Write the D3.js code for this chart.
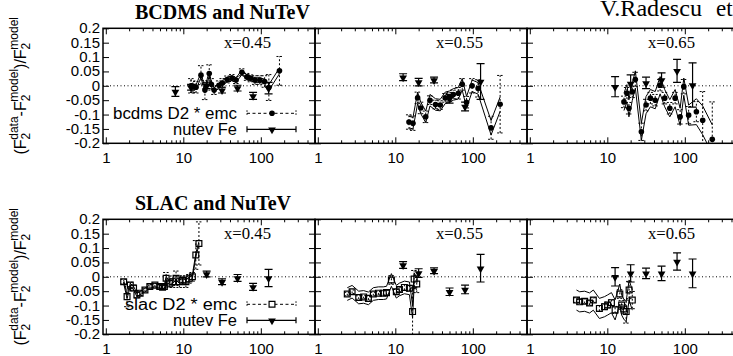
<!DOCTYPE html>
<html><head><meta charset="utf-8">
<script src="https://cdn.jsdelivr.net/npm/d3@7"></script>
<style>body{margin:0;background:#fff}svg{display:block}</style></head>
<body><svg id="c" width="733" height="356"></svg>
<script>
// ---------------- DATA ----------------
// Top row: BCDMS (D2 * emc) at x = 0.45, 0.55, 0.65
const bcdmsQ45 = [12.6, 13.3, 14.6, 16.9, 19.0, 21.6, 23.0, 25.0, 28.8, 32.0, 36.8, 42.5, 48.0, 57.0, 66.0, 74.0, 84.0, 97.0, 112, 127, 174];
const bcdmsV45 = [0.0, -0.003, -0.005, 0.037, -0.015, 0.043, 0.005, -0.015, 0.002, 0.01, 0.022, 0.027, 0.02, 0.047, 0.031, 0.026, 0.02, 0.02, 0.015, -0.006, 0.052];
const bcdmsE45 = [0.025, 0.02, 0.02, 0.033, 0.033, 0.03, 0.02, 0.015, 0.015, 0.015, 0.012, 0.012, 0.012, 0.012, 0.012, 0.012, 0.015, 0.015, 0.02, 0.045, 0.05];
const bcdmsS45 = [0.008, 0.008, 0.008, 0.008, 0.008, 0.008, 0.008, 0.008, 0.008, 0.008, 0.008, 0.008, 0.008, 0.008, 0.008, 0.008, 0.008, 0.008, 0.008, 0.01, 0.01];

const bcdmsQ55 = [15, 16.9, 19.4, 21.3, 24.7, 28, 33, 38, 44, 50, 56, 65, 73, 83, 98, 117, 172, 225];
const bcdmsV55 = [-0.126, -0.13, -0.042, -0.077, -0.108, -0.05, -0.065, -0.067, -0.042, -0.038, -0.03, -0.026, 0.005, -0.057, 0.0, -0.009, -0.146, -0.064];
const bcdmsE55 = [0.025, 0.025, 0.02, 0.02, 0.02, 0.015, 0.015, 0.015, 0.015, 0.015, 0.015, 0.02, 0.02, 0.02, 0.025, 0.03, 0.04, 0.1];
const bcdmsS55 = [0.02, 0.02, 0.02, 0.02, 0.02, 0.02, 0.02, 0.02, 0.02, 0.02, 0.02, 0.02, 0.02, 0.02, 0.02, 0.02, 0.025, 0.025];

const bcdmsQ65 = [16.4, 17.9, 19, 21, 23, 27.5, 31.6, 36, 41.5, 48, 55, 64, 75, 87, 97, 112, 141, 170, 226];
const bcdmsV65 = [-0.056, -0.026, -0.078, -0.021, 0.022, -0.16, -0.067, -0.043, -0.05, 0.002, -0.043, -0.078, -0.043, -0.108, -0.003, -0.102, -0.09, -0.12, -0.186];
const bcdmsE65 = [0.02, 0.02, 0.02, 0.02, 0.025, 0.03, 0.02, 0.02, 0.02, 0.02, 0.02, 0.02, 0.02, 0.025, 0.025, 0.03, 0.035, 0.1, 0.13];
const bcdmsS65 = [0.03, 0.03, 0.03, 0.03, 0.03, 0.03, 0.03, 0.03, 0.03, 0.03, 0.03, 0.03, 0.03, 0.03, 0.03, 0.035, 0.045, 0.05, 0.05];

// Bottom row: SLAC (D2 * emc) at x = 0.45, 0.55, 0.65
const slacQ45 = [1.70, 1.88, 2.07, 2.28, 2.52, 2.77, 3.2, 3.7, 4.3, 4.96, 5.4, 5.7, 6.0, 6.6, 7.3, 8.06, 8.9, 9.8, 10.8, 11.9, 13.1, 14.5, 15.9];
const slacV45 = [-0.017, -0.069, -0.029, -0.039, -0.063, -0.057, -0.046, -0.034, -0.029, -0.034, -0.036, -0.034, -0.005, -0.022, -0.017, -0.005, -0.017, -0.012, -0.017, -0.007, 0.0, 0.076, 0.116];
const slacE45 = [0.008, 0.035, 0.01, 0.01, 0.01, 0.008, 0.006, 0.006, 0.006, 0.006, 0.006, 0.008, 0.02, 0.015, 0.02, 0.025, 0.02, 0.015, 0.02, 0.015, 0.015, 0.05, 0.075];
const slacS45 = [0.006, 0.006, 0.006, 0.006, 0.006, 0.006, 0.006, 0.006, 0.006, 0.006, 0.006, 0.006, 0.006, 0.006, 0.006, 0.006, 0.006, 0.006, 0.006, 0.006, 0.006, 0.006, 0.006];

const slacQ55 = [2.4, 2.77, 3.37, 3.9, 4.5, 5.2, 6.05, 7.0, 7.7, 8.9, 10.3, 11.3, 13.1, 15.2, 16.7, 17.5, 18.9];
const slacV55 = [-0.06, -0.052, -0.072, -0.07, -0.075, -0.06, -0.057, -0.057, -0.055, -0.011, -0.052, -0.044, -0.037, -0.04, -0.121, -0.008, -0.025];
const slacE55 = [0.006, 0.006, 0.006, 0.006, 0.006, 0.006, 0.006, 0.008, 0.008, 0.015, 0.008, 0.008, 0.01, 0.01, 0.08, 0.03, 0.03];
const slacS55 = [0.022, 0.022, 0.022, 0.022, 0.022, 0.022, 0.022, 0.022, 0.022, 0.022, 0.022, 0.022, 0.022, 0.022, 0.022, 0.022, 0.022];

const slacQ65 = [4.0, 4.4, 5.1, 5.9, 6.6, 7.9, 9.2, 10.1, 11.3, 12.6, 14.5, 15.3, 16.3, 17.5, 19.1, 21];
const slacV65 = [-0.081, -0.087, -0.085, -0.091, -0.081, -0.11, -0.104, -0.098, -0.09, -0.115, -0.06, -0.098, -0.112, -0.121, -0.046, -0.081];
const slacE65 = [0.008, 0.008, 0.008, 0.008, 0.008, 0.01, 0.01, 0.01, 0.01, 0.012, 0.015, 0.015, 0.015, 0.04, 0.03, 0.03];
const slacS65 = [0.035, 0.035, 0.035, 0.035, 0.035, 0.035, 0.035, 0.035, 0.035, 0.035, 0.035, 0.035, 0.035, 0.035, 0.035, 0.035];

// NuTeV Fe
const nutevTopQ45 = [7.9, 12.6, 20, 31.6, 50.1, 79.4, 125.9];
const nutevTopV45 = [-0.02, -0.005, 0.0, -0.015, -0.008, -0.035, -0.008];
const nutevTopE45 = [0.017, 0.01, 0.01, 0.01, 0.01, 0.012, 0.02];
const nutevTopQ55 = [12.6, 20, 31.6, 50.1, 79.4, 125.9];
const nutevTopV55 = [0.03, 0.013, 0.02, -0.045, -0.072, 0.015];
const nutevTopE55 = [0.012, 0.013, 0.01, 0.015, 0.015, 0.062];
const nutevTopQ65 = [12.6, 20, 31.6, 50.1, 79.4, 125.9];
const nutevTopV65 = [-0.003, 0.008, 0.01, 0.02, 0.052, 0.003];
const nutevTopE65 = [0.035, 0.03, 0.02, 0.025, 0.04, 0.077];

const nutevBotQ45 = [20, 31.6, 50.1, 79.4, 125.9];
const nutevBotV45 = [0.01, -0.017, -0.004, -0.035, -0.004];
const nutevBotE45 = [0.01, 0.01, 0.012, 0.012, 0.03];
const nutevBotQ55 = [12.6, 20, 31.6, 50.1, 79.4, 125.9];
const nutevBotV55 = [0.041, 0.013, 0.021, -0.052, -0.044, 0.03];
const nutevBotE55 = [0.012, 0.015, 0.01, 0.013, 0.015, 0.048];
const nutevBotQ65 = [12.6, 20, 31.6, 50.1, 79.4, 125.9];
const nutevBotV65 = [0.0, 0.012, 0.012, 0.012, 0.053, 0.012];
const nutevBotE65 = [0.032, 0.03, 0.018, 0.025, 0.03, 0.05];

const xLabels = ["x=0.45", "x=0.55", "x=0.65"];
const yTickValues = [-0.2, -0.15, -0.1, -0.05, 0, 0.05, 0.1, 0.15, 0.2];
const xMajorTicks = [1, 10, 100];
const rowTitles = ["BCDMS and NuTeV", "SLAC and NuTeV"];
const legendTop = ["bcdms D2 * emc", "nutev Fe"];
const legendBot = ["slac D2 * emc", "nutev Fe"];

// ---------------- LAYOUT ----------------
const svg = d3.select("#c");
const panelLefts = [103, 315, 527], panelW = 212;
const rows = [{top: 28.3, bottom: 143.3}, {top: 219.3, bottom: 334.3}];
const sans = "'Liberation Sans', Arial, sans-serif";
const serif = "'Liberation Serif', 'Times New Roman', serif";

const panels = [
  [
    {q: bcdmsQ45, v: bcdmsV45, e: bcdmsE45, s: bcdmsS45, nq: nutevTopQ45, nv: nutevTopV45, ne: nutevTopE45},
    {q: bcdmsQ55, v: bcdmsV55, e: bcdmsE55, s: bcdmsS55, nq: nutevTopQ55, nv: nutevTopV55, ne: nutevTopE55},
    {q: bcdmsQ65, v: bcdmsV65, e: bcdmsE65, s: bcdmsS65, nq: nutevTopQ65, nv: nutevTopV65, ne: nutevTopE65}
  ],
  [
    {q: slacQ45, v: slacV45, e: slacE45, s: slacS45, nq: nutevBotQ45, nv: nutevBotV45, ne: nutevBotE45},
    {q: slacQ55, v: slacV55, e: slacE55, s: slacS55, nq: nutevBotQ55, nv: nutevBotV55, ne: nutevBotE55},
    {q: slacQ65, v: slacV65, e: slacE65, s: slacS65, nq: nutevBotQ65, nv: nutevBotV65, ne: nutevBotE65}
  ]
];

const defs = svg.append("defs");
const triSym = d3.symbol().type(d3.symbolTriangle).size(26);
const sqSym = d3.symbol().type(d3.symbolSquare).size(34);

rows.forEach((row, ri) => {
  const y = d3.scaleLinear().domain([-0.2, 0.2]).range([row.bottom, row.top]);
  panelLefts.forEach((left, pi) => {
    const x = d3.scaleLog().domain([0.92, 500]).range([left, left + panelW]);
    const d = panels[ri][pi];
    const g = svg.append("g");
    const cid = `clip${ri}${pi}`;
    defs.append("clipPath").attr("id", cid).append("rect")
      .attr("x", left).attr("y", row.top).attr("width", panelW).attr("height", row.bottom - row.top);

    // zero line
    g.append("line").attr("x1", left).attr("x2", left + panelW)
      .attr("y1", y(0)).attr("y2", y(0))
      .attr("stroke", "#000").attr("stroke-width", 1).attr("stroke-dasharray", "1,2.5");

    const dg = g.append("g").attr("clip-path", `url(#${cid})`);
    const idx = d.q.map((_, i) => i);
    // band lines
    [1, -1].forEach(sg => {
      dg.append("path")
        .attr("d", d3.line().x(i => x(d.q[i])).y(i => y(d.v[i] + sg * d.s[i]))(idx))
        .attr("fill", "none").attr("stroke", "#000").attr("stroke-width", 1);
    });
    // dashed error bars
    idx.forEach(i => {
      const xx = x(d.q[i]), y1 = y(d.v[i] - d.e[i]), y2 = y(d.v[i] + d.e[i]);
      dg.append("line").attr("x1", xx).attr("x2", xx).attr("y1", y1).attr("y2", y2)
        .attr("stroke", "#000").attr("stroke-width", 1).attr("stroke-dasharray", "2,2");
      [y1, y2].forEach(yy => dg.append("line").attr("x1", xx - 3).attr("x2", xx + 3)
        .attr("y1", yy).attr("y2", yy).attr("stroke", "#000").attr("stroke-width", 1).attr("stroke-dasharray", "2,1.5"));
    });
    // markers
    if (ri === 0) {
      dg.selectAll("circle.b").data(idx).join("circle")
        .attr("cx", i => x(d.q[i])).attr("cy", i => y(d.v[i])).attr("r", 2.8).attr("fill", "#000");
    } else {
      dg.selectAll("path.s").data(idx).join("path")
        .attr("d", sqSym).attr("transform", i => `translate(${x(d.q[i])},${y(d.v[i])})`)
        .attr("fill", "none").attr("stroke", "#000").attr("stroke-width", 1.2);
    }
    // NuTeV
    d.nq.forEach((q, i) => {
      const xx = x(q), y1 = y(d.nv[i] - d.ne[i]), y2 = y(d.nv[i] + d.ne[i]);
      dg.append("line").attr("x1", xx).attr("x2", xx).attr("y1", y1).attr("y2", y2)
        .attr("stroke", "#000").attr("stroke-width", 1.2);
      [y1, y2].forEach(yy => dg.append("line").attr("x1", xx - 4).attr("x2", xx + 4)
        .attr("y1", yy).attr("y2", yy).attr("stroke", "#000").attr("stroke-width", 1.2));
      dg.append("path").attr("d", triSym)
        .attr("transform", `translate(${xx},${y(d.nv[i]) + 0.5}) rotate(180)`).attr("fill", "#000");
    });

    // axes
    const minor = x.ticks().filter(t => t >= 1 && !xMajorTicks.includes(t));
    const axB = g.append("g").attr("transform", `translate(0,${row.bottom})`)
      .call(d3.axisBottom(x).tickValues(xMajorTicks).tickSize(-6).tickPadding(9).tickFormat(t => String(t)));
    g.append("g").attr("transform", `translate(0,${row.bottom})`)
      .call(d3.axisBottom(x).tickValues(minor).tickSize(-3).tickFormat(""));
    g.append("g").attr("transform", `translate(0,${row.top})`)
      .call(d3.axisTop(x).tickValues(xMajorTicks).tickSize(-6).tickFormat(""));
    g.append("g").attr("transform", `translate(0,${row.top})`)
      .call(d3.axisTop(x).tickValues(minor).tickSize(-3).tickFormat(""));
    const axL = g.append("g").attr("transform", `translate(${left},0)`)
      .call(d3.axisLeft(y).tickValues(yTickValues).tickSize(-6).tickPadding(3).tickFormat(t => String(t)));
    g.append("g").attr("transform", `translate(${left + panelW},0)`)
      .call(d3.axisRight(y).tickValues(yTickValues).tickSize(-6).tickFormat(""));
    g.selectAll(".domain").remove();
    g.selectAll(".tick line").attr("stroke", "#000").attr("stroke-width", 1);
    g.selectAll(".tick text").attr("font-family", sans).attr("font-size", 14).attr("fill", "#000");
    axL.selectAll("text").attr("textLength", function() { return this.getComputedTextLength() * 1.07; })
      .attr("lengthAdjust", "spacingAndGlyphs");
    if (pi !== 0) axL.selectAll("text").remove();
    axB.selectAll("text").attr("dy", "0.71em").attr("font-size", 15);

    // border
    g.append("rect").attr("x", left).attr("y", row.top).attr("width", panelW)
      .attr("height", row.bottom - row.top).attr("fill", "none").attr("stroke", "#000").attr("stroke-width", 1.5);

    // x= label
    g.append("text").attr("x", left + 121).attr("y", row.top + 19.7)
      .attr("font-family", serif).attr("font-size", 17).attr("textLength", 47).attr("lengthAdjust", "spacingAndGlyphs")
      .text(xLabels[pi]);

    // legend
    if (pi === 0) {
      const lab = ri === 0 ? legendTop : legendBot;
      const lens = ri === 0 ? [124, 64] : [112, 64];
      const ly = [row.top + 85, row.top + 101];
      const lx1 = left + 144, lx2 = left + 193, lxm = left + 169;
      lab.forEach((t, k) => {
        g.append("text").attr("x", left + 134).attr("y", ly[k] + 5.5).attr("text-anchor", "end")
          .attr("font-family", sans).attr("font-size", 16)
          .attr("textLength", lens[k]).attr("lengthAdjust", "spacingAndGlyphs").text(t);
        const dash = k === 0 ? "3,2.5" : null;
        g.append("line").attr("x1", lx1).attr("x2", lx2).attr("y1", ly[k]).attr("y2", ly[k])
          .attr("stroke", "#000").attr("stroke-width", k === 0 ? 1 : 1.2).attr("stroke-dasharray", dash);
        [lx1, lx2].forEach(xx => g.append("line").attr("x1", xx).attr("x2", xx)
          .attr("y1", ly[k] - 3).attr("y2", ly[k] + 3).attr("stroke", "#000")
          .attr("stroke-width", k === 0 ? 1 : 1.2).attr("stroke-dasharray", k === 0 ? "1.5,1.5" : null));
        if (k === 1) {
          g.append("path").attr("d", triSym).attr("transform", `translate(${lxm},${ly[k] + 0.5}) rotate(180)`).attr("fill", "#000");
        } else if (ri === 0) {
          g.append("circle").attr("cx", lxm).attr("cy", ly[k]).attr("r", 2.8).attr("fill", "#000");
        } else {
          g.append("path").attr("d", sqSym).attr("transform", `translate(${lxm},${ly[k]})`)
            .attr("fill", "#fff").attr("stroke", "#000").attr("stroke-width", 1.2);
        }
      });
    }
  });

  // row title
  svg.append("text").attr("x", 135).attr("y", row.top - 9.5)
    .attr("font-family", serif).attr("font-weight", "bold").attr("font-size", 20).text(rowTitles[ri]);

  // y axis title
  const yc = (row.top + row.bottom) / 2;
  const t = svg.append("text").attr("transform", `translate(26,${yc}) rotate(-90)`)
    .attr("text-anchor", "middle").attr("font-family", sans).attr("font-size", 16).attr("fill", "#000");
  t.append("tspan").text("(F");
  t.append("tspan").attr("font-size", 12).attr("dy", 4).text("2");
  t.append("tspan").attr("font-size", 12).attr("dx", -7).attr("dy", -12).text("data");
  t.append("tspan").attr("dy", 8).text("-F");
  t.append("tspan").attr("font-size", 12).attr("dy", 4).text("2");
  t.append("tspan").attr("font-size", 12).attr("dx", -7).attr("dy", -12).text("model");
  t.append("tspan").attr("dy", 8).text(")/F");
  t.append("tspan").attr("font-size", 12).attr("dy", 4).text("2");
  t.append("tspan").attr("font-size", 12).attr("dx", -7).attr("dy", -12).text("model");
});

const auth = svg.append("text").attr("y", 16).attr("font-family", serif).attr("font-size", 23);
auth.append("tspan").attr("x", 600).attr("textLength", 102).attr("lengthAdjust", "spacingAndGlyphs").text("V.Radescu");
auth.append("tspan").attr("x", 716).text("et al.");
</script></body></html>
